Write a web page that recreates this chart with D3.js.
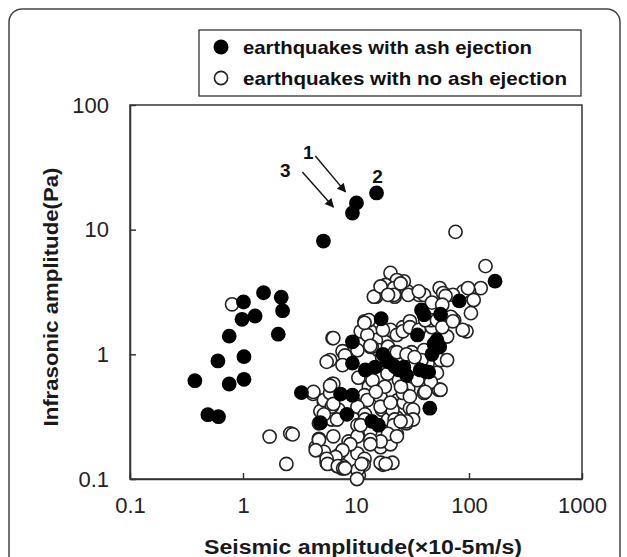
<!DOCTYPE html>
<html>
<head>
<meta charset="utf-8">
<script src="https://cdn.jsdelivr.net/npm/d3@7"></script>
<style>
  body { margin: 0; background: #fff; }
  svg { display: block; font-family: "Liberation Sans", Arial, sans-serif; }
  .axis path, .axis line { stroke: #333; stroke-width: 1.5; }
  .axis text { font-size: 22px; fill: #222; }
  .title { font-size: 20px; font-weight: bold; fill: #1a1a1a; }
  .legend text { font-size: 19px; font-weight: bold; fill: #111; }
</style>
</head>
<body>
<svg width="627" height="557"></svg>
<script>
const width = 627
const height = 557
const margins = { top: 105, bottom: 78, left: 130, right: 45 }

// axis ticks
const xTicks = [0.1, 1, 10, 100, 1000]
const yTicks = [0.1, 1, 10, 100]

// legend labels
const seriesNames = ["earthquakes with ash ejection", "earthquakes with no ash ejection"]

// [seismic amplitude, infrasonic amplitude] - earthquakes with ash ejection
const ashPoints = [
  [15.2, 19.7], [10.1, 16.4], [9.3, 13.6], [5.15, 8.1],
  [1.52, 3.12], [2.18, 2.87], [1.01, 2.63], [2.24, 2.24], [1.28, 2.03], [0.98, 1.91],
  [0.755, 1.40], [2.05, 1.45], [0.60, 0.885], [1.02, 0.957], [0.375, 0.615], [0.755, 0.578],
  [1.02, 0.63], [0.489, 0.328], [0.607, 0.316], [3.29, 0.493], [4.84, 0.283],
  [16.7, 1.93], [9.3, 1.26], [9.3, 0.85], [12.1, 0.75], [14.8, 0.79], [19, 0.87],
  [26.5, 0.79], [28, 0.68], [37, 0.75], [44, 0.72], [52, 1.30], [55, 1.15], [47, 1.0],
  [35, 1.43], [38, 2.27], [56, 2.1], [82, 2.68], [7.3, 0.48], [9.3, 0.47], [8.3, 0.33],
  [13.8, 0.29], [15.8, 0.27], [45, 0.37], [170, 3.86], [40, 2.08], [17.3, 1.0], [41, 0.73],
  [49, 1.21], [22, 0.80], [24, 0.75]
]

// [seismic amplitude, infrasonic amplitude] - earthquakes with no ash ejection
const noAshPoints = [
  [0.80, 2.52], [1.72, 0.219], [2.62, 0.232], [2.75, 0.228], [2.42, 0.132], [4.17, 0.481],
  [76, 9.6], [140, 5.1], [127, 3.4], [100, 3.2], [89, 3.2], [72, 3.0], [55, 3.4], [59, 3.1],
  [62, 2.94], [110, 2.73], [104, 2.14], [98, 3.4],
  [36, 3.0], [40, 3.0], [28.5, 3.2], [22, 2.9], [21.6, 3.85], [26.5, 3.85], [47, 2.6], [58, 2.5],
  [74, 1.88], [95, 1.53], [64, 1.39], [47, 1.65], [26, 1.65], [30, 1.84], [21.6, 1.50], [46, 1.88],
  [20.2, 4.5], [23, 3.94], [18.3, 3.6], [21.7, 3.4], [15, 2.9], [21.7, 3.0], [24.8, 3.7],
  [11.9, 1.84], [12.6, 1.65], [13.4, 1.53], [20.2, 1.57], [6.2, 1.35], [15, 1.30], [23, 1.43],
  [14.4, 2.9], [16.5, 3.5], [19.2, 3.0], [29, 3.0], [36, 3.2],
  [13, 1.88], [11, 1.53], [12.6, 1.43], [17.3, 1.57], [26, 1.53], [30, 1.65], [36, 1.57],
  [41, 1.88], [52, 1.88], [58, 1.65], [69, 2.0], [72, 1.84], [88, 1.57],
  [6.3, 1.35], [7.6, 1.06], [5.9, 0.90], [8.3, 0.95], [10.3, 1.08], [13.4, 1.15], [15.8, 1.08],
  [19.2, 1.15], [22, 1.04], [31, 1.04], [40, 1.08], [56, 0.90], [64, 0.90], [43, 0.85],
  [41, 0.71], [11.9, 1.79], [13.8, 1.15],
  [4.2, 0.50], [5.9, 0.47], [6.2, 0.58], [8.0, 0.98], [7.6, 0.82], [5.5, 0.87], [13.4, 1.17],
  [13, 0.55], [11.9, 0.47], [5.3, 0.38], [5.2, 0.41], [6.1, 0.30], [7.0, 0.36], [11, 0.37],
  [10.3, 0.27], [17, 0.36], [20.2, 0.37], [23.5, 0.43], [16.5, 0.45], [12.6, 0.43],
  [4.7, 0.21], [4.4, 0.18], [5.2, 0.165], [5.5, 0.135], [6.8, 0.127], [7.5, 0.122], [7.0, 0.155],
  [8.6, 0.20], [10.3, 0.16], [11.9, 0.145], [11.7, 0.13], [10.6, 0.107], [17.3, 0.13], [16.5, 0.18],
  [13.8, 0.206], [16.5, 0.22], [20.2, 0.19], [6.3, 0.22], [4.84, 0.35], [13.4, 0.24], [19.2, 0.30],
  [23, 0.31], [21, 0.247],
  [40, 0.49], [54, 0.52], [52, 0.71], [46, 0.60], [29, 0.53], [23, 1.04], [38, 0.90], [26.5, 0.41],
  [28, 0.28], [23, 0.23], [21, 0.36], [30, 0.37], [22, 0.30], [21, 0.135],
  [6.3, 0.58], [5.2, 0.43], [5.9, 0.49], [6.1, 0.38], [6.8, 0.30], [10.3, 0.38], [12, 0.33],
  [12, 0.30], [16.5, 0.38], [20.2, 0.41], [26, 0.49], [30, 0.46], [32, 0.36], [41, 0.50],
  [56, 0.52], [32, 0.30], [28, 0.29], [21.6, 0.27], [19.2, 0.23], [16.5, 0.20], [13.4, 0.206],
  [10.3, 0.22], [8.9, 0.19], [7.6, 0.17], [6.6, 0.15], [5.5, 0.145], [7.6, 0.127], [10.3, 0.118],
  [16.5, 0.135], [23, 0.22], [24.8, 0.29], [4.7, 0.28], [5.2, 0.33], [4.7, 0.206], [4.4, 0.17],
  [5.6, 0.132], [6.9, 0.127], [7.7, 0.122], [11.2, 0.132], [18.3, 0.132], [10.2, 0.1],
  [5.9, 0.56], [6.3, 0.40], [11, 0.27], [13.4, 0.19], [8.0, 0.122],
  [17, 0.95], [19, 0.70], [24, 0.62], [28, 1.0], [33, 0.80], [35, 0.62], [14, 0.62],
  [18, 0.55], [25, 0.55], [33, 0.95], [10.5, 0.65], [15, 0.50]
]

// event labels with arrows (data coordinates)
const eventLabels = [
  { text: "1", x: 3.79, y: 42 },
  { text: "3", x: 2.37, y: 30.1 },
  { text: "2", x: 15.5, y: 26.9 }
]
const eventArrows = [
  { from: [4.37, 39], to: [8.07, 20.1] },
  { from: [3.35, 29], to: [6.31, 15.2] }
]

let svg = d3.select('svg')

// outer rounded frame
svg.append('rect')
    .attr('x', 9).attr('y', 9)
    .attr('width', 611).attr('height', 620)
    .attr('rx', 13)
    .attr('fill', 'none')
    .attr('stroke', '#444')
    .attr('stroke-width', 1.5)

// scales
let xScale = d3.scaleLog()
    .domain([0.1, 1000])
    .range([margins.left, width - margins.right])
let yScale = d3.scaleLog()
    .domain([0.1, 100])
    .range([height - margins.bottom, margins.top])

// axes, ticks point inward
const xAxis = d3.axisBottom(xScale)
    .tickValues(xTicks)
    .tickFormat(d => String(d))
    .tickSizeInner(-6)
    .tickSizeOuter(0)
    .tickPadding(18)
const yAxis = d3.axisLeft(yScale)
    .tickValues(yTicks)
    .tickFormat(d => String(d))
    .tickSizeInner(-6)
    .tickSizeOuter(0)
    .tickPadding(21)

svg.append('g')
    .attr('class', 'axis')
    .attr('transform', `translate(0,${height - margins.bottom})`)
    .call(xAxis)
svg.append('g')
    .attr('class', 'axis')
    .attr('transform', `translate(${margins.left},0)`)
    .call(yAxis)

// plot frame
svg.append('rect')
    .attr('x', margins.left)
    .attr('y', margins.top)
    .attr('width', width - margins.left - margins.right)
    .attr('height', height - margins.top - margins.bottom)
    .attr('fill', 'none')
    .attr('stroke', '#333')
    .attr('stroke-width', 1.5)

// points
const pts = svg.append('g')
pts.selectAll('.noash')
    .data(noAshPoints)
    .enter()
    .append('circle')
    .attr('class', 'noash')
    .attr('cx', d => xScale(d[0]))
    .attr('cy', d => yScale(d[1]))
    .attr('r', 6.6)
    .attr('fill', '#fff')
    .attr('stroke', '#222')
    .attr('stroke-width', 1.6)
pts.selectAll('.ash')
    .data(ashPoints)
    .enter()
    .append('circle')
    .attr('class', 'ash')
    .attr('cx', d => xScale(d[0]))
    .attr('cy', d => yScale(d[1]))
    .attr('r', 7.4)
    .attr('fill', '#000')

// arrows + labels
svg.append('defs').append('marker')
    .attr('id', 'arrow')
    .attr('viewBox', '0 0 10 10')
    .attr('refX', 9).attr('refY', 5)
    .attr('markerWidth', 10).attr('markerHeight', 9)
    .attr('markerUnits', 'userSpaceOnUse')
    .attr('orient', 'auto')
    .append('path')
    .attr('d', 'M0,0 L10,5 L0,10 z')
    .attr('fill', '#111')

svg.append('g').selectAll('line')
    .data(eventArrows)
    .enter()
    .append('line')
    .attr('x1', d => xScale(d.from[0]))
    .attr('y1', d => yScale(d.from[1]))
    .attr('x2', d => xScale(d.to[0]))
    .attr('y2', d => yScale(d.to[1]))
    .attr('stroke', '#111')
    .attr('stroke-width', 1.4)
    .attr('marker-end', 'url(#arrow)')

svg.append('g').selectAll('text')
    .data(eventLabels)
    .enter()
    .append('text')
    .attr('x', d => xScale(d.x))
    .attr('y', d => yScale(d.y))
    .attr('dy', '0.36em')
    .attr('text-anchor', 'middle')
    .style('font-size', '19px')
    .style('font-weight', 'bold')
    .style('fill', '#111')
    .text(d => d.text)

// axis titles
svg.append('text')
    .attr('class', 'title')
    .attr('x', 363)
    .attr('y', 554)
    .attr('text-anchor', 'middle')
    .attr('textLength', 318)
    .attr('lengthAdjust', 'spacingAndGlyphs')
    .text('Seismic amplitude(×10-5m/s)')
svg.append('text')
    .attr('class', 'title')
    .attr('transform', 'translate(58,297) rotate(-90)')
    .attr('text-anchor', 'middle')
    .attr('textLength', 259)
    .attr('lengthAdjust', 'spacingAndGlyphs')
    .text('Infrasonic amplitude(Pa)')

// legend
const legend = svg.append('g').attr('class', 'legend')
legend.append('rect')
    .attr('x', 199).attr('y', 30)
    .attr('width', 382).attr('height', 66)
    .attr('fill', '#fff')
    .attr('stroke', '#333')
    .attr('stroke-width', 1.3)
const rows = legend.selectAll('.row')
    .data(seriesNames)
    .enter()
    .append('g')
    .attr('class', 'row')
    .attr('transform', (d, i) => `translate(221,${47 + i * 31})`)
rows.append('circle')
    .attr('r', (d, i) => i === 0 ? 7.5 : 6.6)
    .attr('fill', (d, i) => i === 0 ? '#000' : '#fff')
    .attr('stroke', (d, i) => i === 0 ? 'none' : '#222')
    .attr('stroke-width', 1.6)
rows.append('text')
    .attr('x', 22)
    .attr('dy', '0.35em')
    .attr('textLength', (d, i) => i === 0 ? 289 : 324)
    .attr('lengthAdjust', 'spacingAndGlyphs')
    .text(d => d)
</script>
</body>
</html>
